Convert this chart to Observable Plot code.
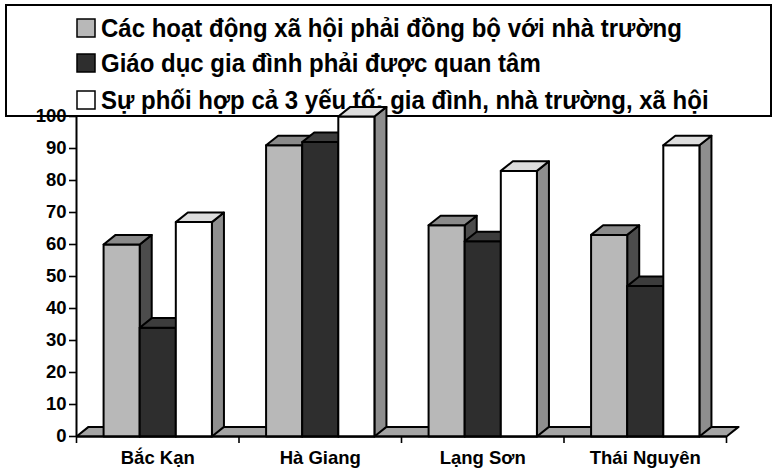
<!DOCTYPE html>
<html>
<head>
<meta charset="utf-8">
<script src="https://cdn.jsdelivr.net/npm/d3@7"></script>
<script src="https://cdn.jsdelivr.net/npm/@observablehq/plot@0.6"></script>
<style>
  body { margin: 0; background: #fff; }
  #wrap { position: relative; width: 773px; height: 472px; overflow: hidden; }
  #legend { position: absolute; left: 0; top: 0; }
  #chart { position: absolute; left: 0; top: 0; }
</style>
</head>
<body>
<div id="wrap"><svg id="legend" width="773" height="472"></svg><div id="chart"></div></div>
<script>
// ---- data ----
const categories = ["Bắc Kạn", "Hà Giang", "Lạng Sơn", "Thái Nguyên"];
const seriesNames = [
  "Các hoạt động xã hội phải đồng bộ với nhà trường",
  "Giáo dục gia đình phải được quan tâm",
  "Sự phối hợp cả 3 yếu tố: gia đình, nhà trường, xã hội"
];
const socialActivities = [60, 91, 66, 63];
const familyEducation  = [34, 92, 61, 47];
const combinedFactors  = [67, 100, 83, 91];
const yTicks = [0, 10, 20, 30, 40, 50, 60, 70, 80, 90, 100];

// ---- styling ----
const series = [socialActivities, familyEducation, combinedFactors];
const palette = [
  {front: "#b8b8b8", top: "#8a8a8a", side: "#4c4c4c"},
  {front: "#2e2e2e", top: "#3c3c3c", side: "#1e1e1e"},
  {front: "#ffffff", top: "#dddddd", side: "#8e8e8e"}
];
const floorColor = "#a4a4a4";
const W = 1 / 4.5;   // bar width in category units (gap width 150%)
const DX = 0.074;    // 3D depth offset (x, category units)
const DY = 3;        // 3D depth offset (y, value units)

// build 3D face polygons in data coordinates, in painting order
const pts = [];
let pid = 0;
function poly(coords, fill) {
  pid++;
  for (const [x, y] of coords) pts.push({x, y, id: pid, fill});
}
poly([[0, 0], [categories.length, 0], [categories.length + DX, DY], [DX, DY]], floorColor);
categories.forEach((c, i) => {
  series.forEach((vals, j) => {
    const v = vals[i];
    const x0 = i + 0.75 * W + j * W;
    const x1 = x0 + W;
    poly([[x1, 0], [x1 + DX, DY], [x1 + DX, v + DY], [x1, v]], palette[j].side);
    poly([[x0, 0], [x1, 0], [x1, v], [x0, v]], palette[j].front);
    poly([[x0, v], [x1, v], [x1 + DX, v + DY], [x0 + DX, v + DY]], palette[j].top);
  });
});

const chart = Plot.plot({
  width: 773,
  height: 472,
  marginLeft: 76,
  marginRight: 47,
  marginTop: 116,
  marginBottom: 36,
  x: {domain: [0, categories.length], axis: null},
  y: {domain: [0, 100], axis: null},
  color: {type: "identity"},
  style: {background: "transparent", fontFamily: "'Liberation Sans', Arial, sans-serif", fontWeight: "bold", color: "black"},
  marks: [
    Plot.line(pts, {x: "x", y: "y", z: "id", fill: "fill", stroke: "black", strokeWidth: 2, strokeLinejoin: "round", curve: "linear-closed"}),
    Plot.ruleX([0], {y1: 0, y2: 100, stroke: "black", strokeWidth: 2}),
    Plot.ruleY([0], {x1: 0, x2: categories.length, stroke: "black", strokeWidth: 2}),
    Plot.axisY({ticks: yTicks, label: null, tickSize: 7, tickPadding: 3, fontSize: 18.5, fontWeight: "bold", strokeWidth: 1.6}),
    Plot.axisX({ticks: d3.range(categories.length + 1), label: null, tickSize: 7, tickFormat: () => "", strokeWidth: 1.6}),
    Plot.text(categories, {x: (d, i) => i + 0.5, y: 0, dy: 22, text: d => d, fontSize: 18.5, fontWeight: "bold", fill: "black"})
  ]
});
document.getElementById("chart").appendChild(chart);

// ---- legend (behind the chart) ----
const lg = d3.select("#legend");
lg.append("rect").attr("x", 6).attr("y", 5).attr("width", 765).attr("height", 111)
  .attr("fill", "white").attr("stroke", "black").attr("stroke-width", 2);
const canvas = document.createElement("canvas");
const ctx = canvas.getContext("2d");
ctx.font = "bold 24px 'Liberation Sans'";
const baselines = [37, 72, 109];
seriesNames.forEach((name, k) => {
  const b = baselines[k];
  lg.append("rect").attr("x", 77).attr("y", b - 18).attr("width", 18).attr("height", 18)
    .attr("fill", palette[k].front).attr("stroke", "black").attr("stroke-width", 1.5);
  lg.append("text").attr("x", 101).attr("y", b)
    .attr("font-family", "'Liberation Sans Narrow', 'Arial Narrow', 'Liberation Sans', sans-serif")
    .attr("font-weight", "bold").attr("font-size", 26)
    .attr("textLength", ctx.measureText(name).width).attr("lengthAdjust", "spacingAndGlyphs")
    .text(name);
});
</script>
</body>
</html>
